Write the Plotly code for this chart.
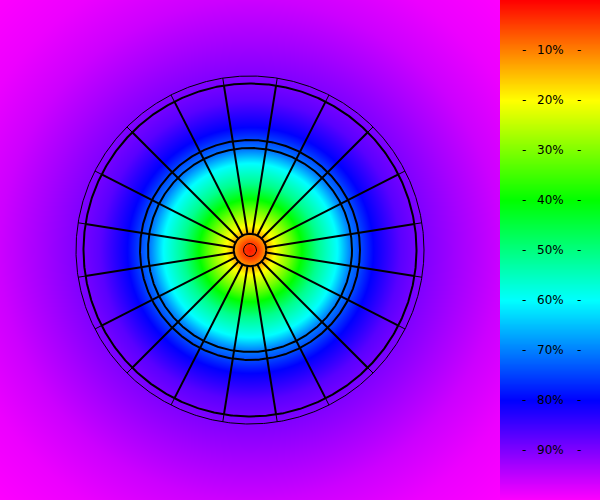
import numpy as np
import plotly.graph_objects as go

# ---- data ----
# radial profile of the heat value (0..1) vs distance from board centre (plot units = px)
PROFILE_R = [0, 8, 16, 23, 33, 40, 50, 67, 87, 100, 123, 150, 173, 210, 250, 300, 360]
PROFILE_V = [0.02, 0.05, 0.12, 0.19, 0.26, 0.31, 0.39, 0.51, 0.60, 0.70, 0.80, 0.87, 0.90, 0.93, 0.96, 0.985, 1.0]

# dartboard wire radii (plot units)
BULL_INNER = 6.5
BULL_OUTER = 16.3
TRIPLE_INNER = 102
TRIPLE_OUTER = 110
DOUBLE_INNER = 166.5
DOUBLE_OUTER = 174
N_SECTORS = 20

# colour bar
CB_TICKS = [0.1, 0.2, 0.3, 0.4, 0.5, 0.6, 0.7, 0.8, 0.9]
CB_LABELS = ["10%", "20%", "30%", "40%", "50%", "60%", "70%", "80%", "90%"]

COLORSCALE = [
    [0.0, "rgb(255,0,0)"],
    [0.2, "rgb(255,255,0)"],
    [0.4, "rgb(0,255,0)"],
    [0.6, "rgb(0,255,255)"],
    [0.8, "rgb(0,0,255)"],
    [1.0, "rgb(255,0,255)"],
]

# ---- build field ----
g = np.arange(-250, 251, 2.0)
X, Y = np.meshgrid(g, g)
R = np.hypot(X, Y)
Z = np.interp(R, PROFILE_R, PROFILE_V)

fig = go.Figure()
fig.add_trace(go.Heatmap(x=g, y=g, z=Z, colorscale=COLORSCALE, zmin=0, zmax=1,
                         zsmooth="best", showscale=False, hoverinfo="skip",
                         xaxis="x", yaxis="y"))

# colour bar as its own heatmap
cb_v = np.linspace(0, 1, 201)
fig.add_trace(go.Heatmap(x=[0, 1], y=cb_v, z=[[v, v] for v in cb_v],
                         colorscale=COLORSCALE, zmin=0, zmax=1, zsmooth="best",
                         showscale=False, hoverinfo="skip", xaxis="x2", yaxis="y2"))

# sector wires
ang = np.deg2rad(9 + 18 * np.arange(N_SECTORS))
xs_in, ys_in, xs_out, ys_out = [], [], [], []
for a in ang:
    c, s = np.cos(a), np.sin(a)
    xs_in += [BULL_OUTER * c, DOUBLE_INNER * c, None]
    ys_in += [BULL_OUTER * s, DOUBLE_INNER * s, None]
    xs_out += [DOUBLE_INNER * c, DOUBLE_OUTER * c, None]
    ys_out += [DOUBLE_INNER * s, DOUBLE_OUTER * s, None]
fig.add_trace(go.Scatter(x=xs_in, y=ys_in, mode="lines", line=dict(color="black", width=2),
                         hoverinfo="skip", showlegend=False))
fig.add_trace(go.Scatter(x=xs_out, y=ys_out, mode="lines", line=dict(color="black", width=1),
                         hoverinfo="skip", showlegend=False))

# circular wires
th = np.linspace(0, 2 * np.pi, 721)
for rad, w in [(BULL_INNER, 1), (BULL_OUTER, 2), (TRIPLE_INNER, 2), (TRIPLE_OUTER, 2),
               (DOUBLE_INNER, 2), (DOUBLE_OUTER, 1)]:
    fig.add_trace(go.Scatter(x=rad * np.cos(th), y=rad * np.sin(th), mode="lines",
                             line=dict(color="black", width=w), hoverinfo="skip",
                             showlegend=False))

ann = []
for t, lab in zip(CB_TICKS, CB_LABELS):
    yp = 1 - t
    for xp, txt in [(523.5 / 600, "-"), (550 / 600, lab), (578.5 / 600, "-")]:
        ann.append(dict(x=xp, y=yp, xref="paper", yref="paper", text=txt, showarrow=False,
                        font=dict(family="DejaVu Sans", size=12, color="black"),
                        xanchor="center", yanchor="middle"))

ax_off = dict(showgrid=False, zeroline=False, showticklabels=False, ticks="", showline=False)
fig.update_layout(
    width=600, height=500, margin=dict(l=0, r=0, t=0, b=0),
    paper_bgcolor="white", plot_bgcolor="white", showlegend=False,
    xaxis=dict(domain=[0, 500 / 600], range=[-250, 250], **ax_off),
    yaxis=dict(domain=[0, 1], range=[-250, 250], **ax_off),
    xaxis2=dict(domain=[500 / 600, 1], range=[0, 1], anchor="y2", **ax_off),
    yaxis2=dict(domain=[0, 1], range=[1, 0], anchor="x2", **ax_off),
    annotations=ann,
)
fig.write_html("out.html", config={"displayModeBar": False})
